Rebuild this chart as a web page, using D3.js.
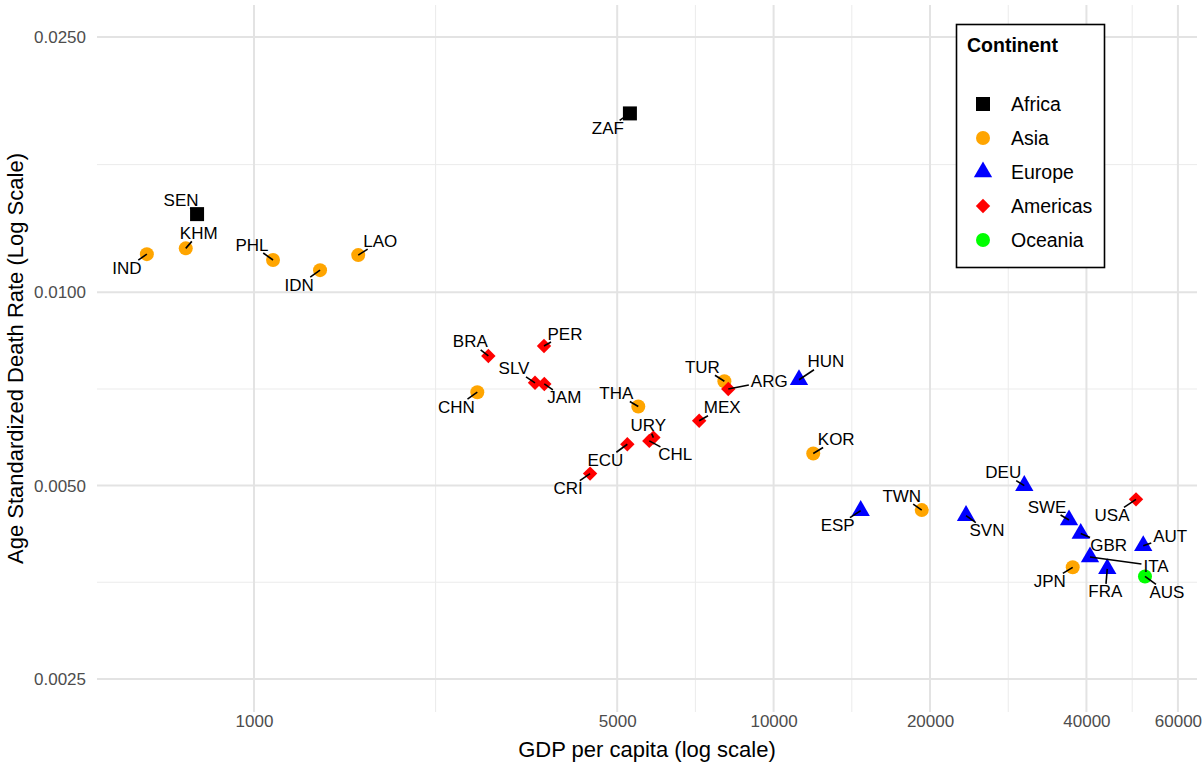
<!DOCTYPE html>
<html>
<head>
<meta charset="utf-8">
<script src="https://cdn.jsdelivr.net/npm/d3@7"></script>
<style>
  html, body { margin: 0; padding: 0; background: #ffffff; }
  svg { display: block; font-family: "Liberation Sans", Arial, Helvetica, sans-serif; }
</style>
</head>
<body>
<svg id="chart" width="1203" height="765"></svg>
<script>
// ---- Data ----
const countries = ["IND","KHM","SEN","PHL","IDN","LAO","ZAF","BRA","PER","CHN","SLV","JAM","THA","TUR","ARG","HUN","MEX","URY","ECU","CHL","CRI","KOR","ESP","TWN","SVN","DEU","SWE","USA","AUT","GBR","ITA","JPN","FRA","AUS"];
const continents = ["Asia","Asia","Africa","Asia","Asia","Asia","Africa","Americas","Americas","Asia","Americas","Americas","Asia","Asia","Americas","Europe","Americas","Americas","Americas","Americas","Americas","Asia","Europe","Asia","Europe","Europe","Europe","Americas","Europe","Europe","Europe","Asia","Europe","Oceania"];
const gdpPerCapita = [622,739,777,1088,1340,1587,5290,2825,3615,2690,3474,3620,5490,8040,8180,11190,7190,5870,5230,5765,4434,11920,14710,19280,23460,30370,37030,49830,51450,39000,40640,37640,43870,51850];
const deathRate = [0.01147,0.01171,0.01324,0.01123,0.01083,0.01143,0.0190,0.00796,0.00825,0.00699,0.00723,0.00720,0.00664,0.00727,0.00707,0.00731,0.00631,0.00594,0.00580,0.00587,0.00522,0.00561,0.00457,0.00458,0.00449,0.00500,0.00442,0.00476,0.00403,0.00421,0.00387,0.00373,0.00371,0.00361];

const continentOrder = ["Africa","Asia","Europe","Americas","Oceania"];
const xTicks = [1000, 5000, 10000, 20000, 40000, 60000];
const yTicks = [0.0025, 0.0050, 0.0100, 0.0250];

// ---- Styling / layout (not data) ----
const colorOf = {Africa:"#000000", Asia:"#FFA500", Europe:"#0000FF", Americas:"#FF0000", Oceania:"#00FF00"};
const shapeOf = {Africa:"square", Asia:"circle", Europe:"triangle", Americas:"diamond", Oceania:"circle"};
// label offsets (px) relative to each point, as placed by the repel layout
const labelDx = [-20,13,-16,-21,-21,22,-22,-18,21,-21,-21,20,-22,-22,41,27,23,-5,-22,26,-22,23,-23,-20,21,-21,-22,-24,27,28,66,-23,-2,22];
const labelDy = [14,-15,-14,-15,15,-14,15,-14,-12,15,-14,14,-13,-14,-8,-18,-13,-12,16,14,15,-14,15,-14,15,-13,-13,16,-9,12,9,14,23,16];

const svg = d3.select("#chart");
const panel = {left: 97, right: 1197, top: 5, bottom: 712};

const x = d3.scaleLog().domain([498.7, 65290]).range([panel.left, panel.right]);
const y = d3.scaleLog().domain([0.00222, 0.02803]).range([panel.bottom, panel.top]);

// minor breaks: midpoints in log space between majors
function minorBreaks(ticks) {
  const out = [];
  for (let i = 0; i < ticks.length - 1; i++) out.push(Math.sqrt(ticks[i] * ticks[i+1]));
  return out;
}

const grid = svg.append("g");
minorBreaks(xTicks).forEach(v => {
  grid.append("line").attr("x1", x(v)).attr("x2", x(v)).attr("y1", panel.top).attr("y2", panel.bottom)
    .attr("stroke", "#ebebeb").attr("stroke-width", 1);
});
minorBreaks(yTicks).forEach(v => {
  grid.append("line").attr("y1", y(v)).attr("y2", y(v)).attr("x1", panel.left).attr("x2", panel.right)
    .attr("stroke", "#ebebeb").attr("stroke-width", 1);
});
xTicks.forEach(v => {
  grid.append("line").attr("x1", x(v)).attr("x2", x(v)).attr("y1", panel.top).attr("y2", panel.bottom)
    .attr("stroke", "#e3e3e3").attr("stroke-width", 2);
});
yTicks.forEach(v => {
  grid.append("line").attr("y1", y(v)).attr("y2", y(v)).attr("x1", panel.left).attr("x2", panel.right)
    .attr("stroke", "#e3e3e3").attr("stroke-width", 2);
});

// axes (via d3 axis generators, with domain/ticks hidden)
const xAxis = svg.append("g").attr("transform", `translate(0,${panel.bottom})`)
  .call(d3.axisBottom(x).tickValues(xTicks).tickFormat(d3.format("d")).tickSize(0).tickPadding(3));
xAxis.select(".domain").remove();
xAxis.selectAll("text").attr("font-size", "17px").attr("fill", "#4d4d4d")
  .attr("font-family", "Liberation Sans, Arial, sans-serif");

const yAxis = svg.append("g").attr("transform", `translate(${panel.left},0)`)
  .call(d3.axisLeft(y).tickValues(yTicks).tickFormat(d3.format(".4f")).tickSize(0).tickPadding(11));
yAxis.select(".domain").remove();
yAxis.selectAll("text").attr("font-size", "17px").attr("fill", "#4d4d4d")
  .attr("font-family", "Liberation Sans, Arial, sans-serif");

// axis titles
svg.append("text").attr("x", (panel.left + panel.right) / 2).attr("y", 757)
  .attr("text-anchor", "middle").attr("font-size", "22px").attr("fill", "#000")
  .text("GDP per capita (log scale)");
svg.append("text").attr("transform", `translate(23,${(panel.top + panel.bottom) / 2}) rotate(-90)`)
  .attr("text-anchor", "middle").attr("font-size", "22px").attr("fill", "#000")
  .text("Age Standardized Death Rate (Log Scale)");

// shape paths
function shapePath(shape) {
  if (shape === "square") return "M-7,-7H7V7H-7Z";
  if (shape === "circle") return d3.symbol(d3.symbolCircle, Math.PI * 49)();
  if (shape === "diamond") return "M0,-7.2L7.2,0L0,7.2L-7.2,0Z";
  if (shape === "triangle") {
    const R = 6.8;
    return `M0,${-1.555*R}L${1.347*R},${0.7776*R}L${-1.347*R},${0.7776*R}Z`;
  }
}

const data = countries.map((c, i) => ({
  code: c, cont: continents[i], gdp: gdpPerCapita[i], rate: deathRate[i],
  dx: labelDx[i], dy: labelDy[i]
}));

// points
svg.append("g").selectAll("path").data(data).join("path")
  .attr("transform", d => `translate(${x(d.gdp)},${y(d.rate)})`)
  .attr("d", d => shapePath(shapeOf[d.cont]))
  .attr("fill", d => colorOf[d.cont]);

// labels with repel-style segments
const segG = svg.append("g");
const labG = svg.append("g");
data.forEach(d => {
  const px = x(d.gdp), py = y(d.rate);
  const lx = px + d.dx, ly = py + d.dy;
  const t = labG.append("text").attr("x", lx).attr("y", ly)
    .attr("text-anchor", "middle").attr("dominant-baseline", "central")
    .attr("font-size", "17px").attr("fill", "#000").text(d.code);
  const w = t.node().getComputedTextLength();
  const hw = w / 2 + 2, hh = 8;
  const vx = px - lx, vy = py - ly;
  let s = Infinity;
  if (vx !== 0) s = Math.min(s, hw / Math.abs(vx));
  if (vy !== 0) s = Math.min(s, hh / Math.abs(vy));
  if (s < 1) {
    const ex = lx + vx * s, ey = ly + vy * s;
    const len = Math.hypot(px - ex, py - ey);
    if (len > 4) {
      segG.append("line").attr("x1", px).attr("y1", py).attr("x2", ex).attr("y2", ey)
        .attr("stroke", "#000").attr("stroke-width", 1.6);
    }
  }
});

// legend
const lg = svg.append("g");
lg.append("rect").attr("x", 956.5).attr("y", 24.5).attr("width", 148).attr("height", 243)
  .attr("fill", "#fff").attr("stroke", "#000").attr("stroke-width", 1.6);
lg.append("text").attr("x", 967).attr("y", 52).attr("font-size", "19.5px").attr("font-weight", "bold")
  .attr("fill", "#000").text("Continent");
const keyY = d3.scalePoint().domain(continentOrder).range([104, 240]);
continentOrder.forEach(c => {
  lg.append("path").attr("transform", `translate(983,${keyY(c)})`)
    .attr("d", shapePath(shapeOf[c])).attr("fill", colorOf[c]);
  lg.append("text").attr("x", 1011).attr("y", keyY(c)).attr("dominant-baseline", "central")
    .attr("font-size", "19.5px").attr("fill", "#000").text(c);
});
</script>
</body>
</html>
